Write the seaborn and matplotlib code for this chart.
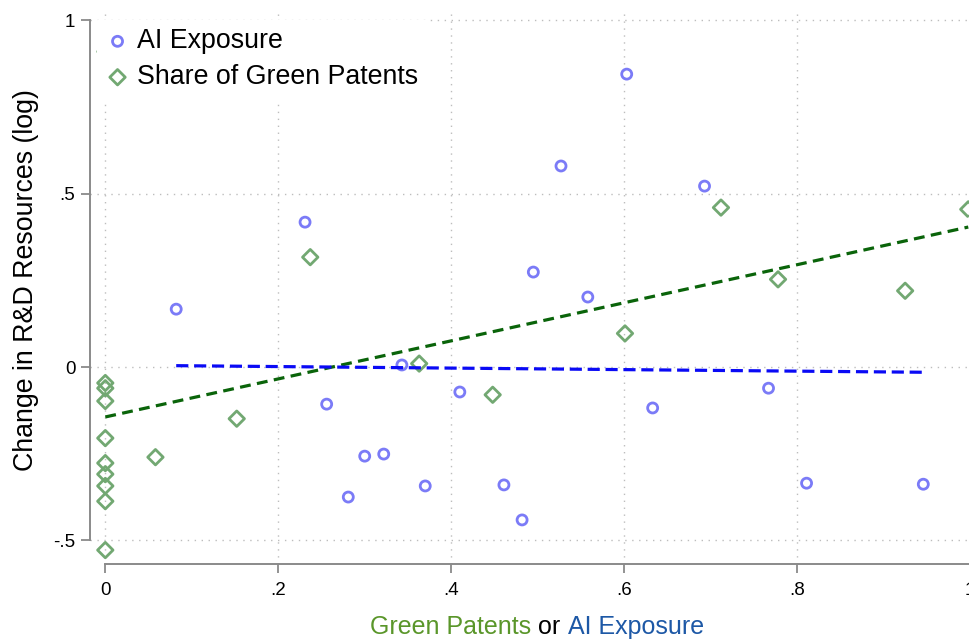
import numpy as np
import seaborn as sns
import matplotlib.pyplot as plt
from matplotlib.offsetbox import TextArea, HPacker, AnchoredOffsetbox

# AI exposure (blue circles)
ai_x = [0.082, 0.231, 0.256, 0.281, 0.300, 0.322, 0.343, 0.370, 0.410, 0.461,
        0.482, 0.495, 0.527, 0.558, 0.603, 0.633, 0.693, 0.767, 0.811, 0.946]
ai_y = [0.167, 0.418, -0.107, -0.375, -0.257, -0.251, 0.006, -0.343, -0.072, -0.340,
        -0.441, 0.274, 0.580, 0.202, 0.845, -0.118, 0.522, -0.061, -0.335, -0.338]

# share of green patents (green diamonds), one sits behind the legend
green_x = [0, 0, 0, 0, 0, 0, 0, 0, 0, 0,
           0.058, 0.152, 0.237, 0.363, 0.448, 0.601, 0.712, 0.778, 0.925, 0.998]
green_y = [0.91, -0.046, -0.061, -0.098, -0.205, -0.277, -0.309, -0.343, -0.387, -0.528,
           -0.260, -0.149, 0.317, 0.010, -0.080, 0.097, 0.460, 0.253, 0.220, 0.455]

# linear fits (intercept, slope)
green_fit = (-0.144, 0.549)
ai_fit = (0.0058, -0.022)

x_ticks = [0, 0.2, 0.4, 0.6, 0.8, 1.0]
x_tick_labels = ["0", ".2", ".4", ".6", ".8", "1"]
y_ticks = [-0.5, 0, 0.5, 1.0]
y_tick_labels = ["-.5", "0", ".5", "1"]

sns.set_style("white")
plt.rcParams["font.family"] = ["Liberation Sans", "DejaVu Sans"]
plt.rcParams["text.color"] = "black"
plt.rcParams["xtick.color"] = "black"
plt.rcParams["ytick.color"] = "black"
plt.rcParams["axes.labelcolor"] = "black"

blue_pt = "#7b7bf7"
green_pt = "#72a872"
axis_col = "#8a8a8a"

fig = plt.figure(figsize=(9.69, 6.4), dpi=100)
ax = fig.add_axes([90 / 969, (640 - 564.3) / 640, 880 / 969, 554.3 / 640])

sns.scatterplot(x=ai_x, y=ai_y, ax=ax, marker="o", s=52, color=blue_pt,
                facecolor="none", edgecolor=blue_pt, linewidth=2.0,
                label="AI Exposure", zorder=3)
sns.scatterplot(x=green_x, y=green_y, ax=ax, marker="D", s=62, color=green_pt,
                facecolor="none", edgecolor=green_pt, linewidth=2.0,
                label="Share of Green Patents", zorder=3)

gx = np.array([min(green_x), max(green_x)])
ax.plot(gx, green_fit[0] + green_fit[1] * gx, color="#0a640a", lw=2.3,
        linestyle=(0, (3.4, 2.0)), zorder=4)
bx = np.array([min(ai_x), max(ai_x)])
ax.plot(bx, ai_fit[0] + ai_fit[1] * bx, color="#0a0af5", lw=2.3,
        linestyle=(0, (3.8, 1.8)), zorder=4)

ax.set_xlim(-0.0177, 1.0)
ax.set_ylim(-0.569, 1.030)
ax.set_xticks(x_ticks)
ax.set_xticklabels(x_tick_labels)
ax.set_yticks(y_ticks)
ax.set_yticklabels(y_tick_labels)
ax.tick_params(axis="both", bottom=True, left=True, length=6.5, width=1.3,
               color=axis_col, labelcolor="black", labelsize=13.5, pad=4)
ax.tick_params(axis="x", pad=6)

ax.grid(True, linestyle=(0, (1, 4)), color="#bdbdbd", linewidth=1.0)
ax.set_axisbelow(True)

for side in ["top", "right"]:
    ax.spines[side].set_visible(False)
ax.spines["left"].set_bounds(-0.5, 1.0)
ax.spines["bottom"].set_bounds(0, 1.0)
for side in ["left", "bottom"]:
    ax.spines[side].set_color(axis_col)
    ax.spines[side].set_linewidth(1.4)

ax.set_ylabel("Change in R&D Resources (log)", fontsize=19.3, color="black")
ax.yaxis.label.set_verticalalignment("center")
ax.yaxis.set_label_coords(-0.073, 0.513)

leg = ax.legend(loc="upper left", bbox_to_anchor=(97.3 / 969, 1 - 19.5 / 640),
                bbox_transform=fig.transFigure, fontsize=19.3, frameon=True,
                facecolor="white", edgecolor="white", framealpha=1,
                borderpad=0.33, borderaxespad=0, handlelength=0.85,
                handletextpad=0.3, labelspacing=0.37, fancybox=False)
for t in leg.get_texts():
    t.set_color("black")
leg.set_zorder(6)

# x title in three colours
parts = [TextArea("Green Patents", textprops=dict(color="#5a962a", size=18)),
         TextArea(" or ", textprops=dict(color="black", size=18)),
         TextArea("AI Exposure", textprops=dict(color="#1d58a6", size=18))]
title_box = HPacker(children=parts, align="baseline", pad=0, sep=0)
anchored = AnchoredOffsetbox(loc="center", child=title_box, pad=0, frameon=False,
                             bbox_to_anchor=(537 / 969, 1 - 627 / 640),
                             bbox_transform=fig.transFigure, borderpad=0)
ax.add_artist(anchored)

fig.savefig("out.png", dpi=100)
